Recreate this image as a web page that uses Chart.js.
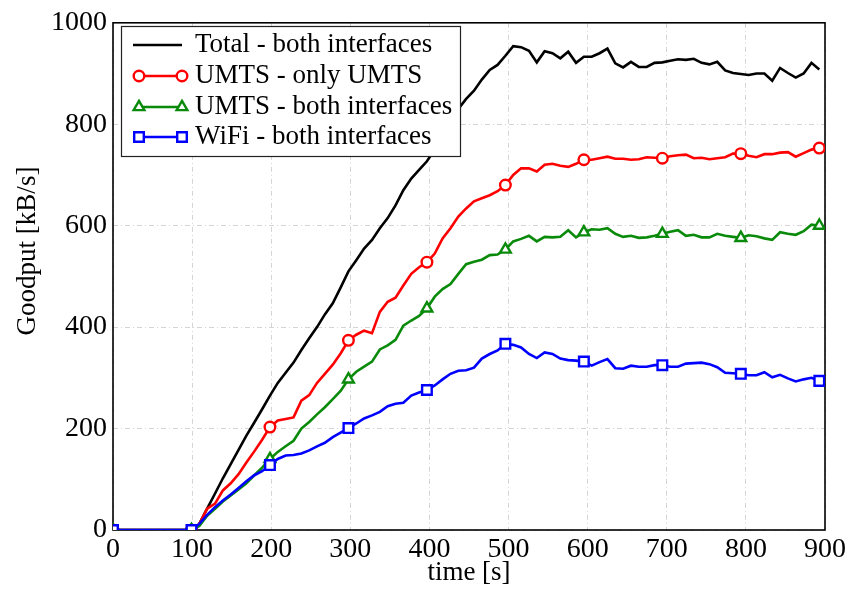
<!DOCTYPE html>
<html>
<head>
<meta charset="utf-8">
<script src="https://cdn.jsdelivr.net/npm/chart.js@4.4.0/dist/chart.umd.min.js"></script>
<style>
html, body { margin: 0; padding: 0; background: #fff; }
</style>
</head>
<body>
<canvas id="chart" width="851" height="593"></canvas>
<script>
// sample times [s]
const times = [0, 9.9, 19.8, 29.8, 39.7, 49.6, 59.5, 69.4, 79.4, 89.3,
    99.2, 109.1, 119.0, 129.0, 138.9, 148.8, 158.7, 168.6, 178.6, 188.5,
    198.4, 208.3, 218.2, 228.2, 238.1, 248.0, 257.9, 267.8, 277.8, 287.7,
    297.6, 307.5, 317.4, 327.4, 337.3, 347.2, 357.1, 367.0, 377.0, 386.9,
    396.8, 406.7, 416.6, 426.6, 436.5, 446.4, 456.3, 466.2, 476.2, 486.1,
    496.0, 505.9, 515.8, 525.8, 535.7, 545.6, 555.5, 565.4, 575.4, 585.3,
    595.2, 605.1, 615.0, 625.0, 634.9, 644.8, 654.7, 664.6, 674.6, 684.5,
    694.4, 704.3, 714.2, 724.2, 734.1, 744.0, 753.9, 763.8, 773.8, 783.7,
    793.6, 803.5, 813.4, 823.4, 833.3, 843.2, 853.1, 863.0, 873.0, 882.9,
    892.8];

// goodput [kB/s]
const totalBoth = [0, 0, 0, 0, 0, 0, 0, 0, 0, 0, 0,
    12, 42, 72, 102, 130, 158, 186, 212, 238, 265,
    290, 310, 330, 355, 378, 400, 425, 447, 478, 510,
    532, 555, 572, 595, 615, 640, 670, 693, 710, 727,
    750, 775, 800, 830, 850, 866, 888, 907, 917, 935,
    954, 952, 945, 922, 944, 940, 930, 943, 921, 933,
    933, 940, 949, 920, 912, 923, 913, 913, 921, 922,
    925, 928, 927, 929, 921, 918, 923, 906, 901, 899,
    897, 900, 900, 886, 911, 901, 892, 900, 921, 908];

const umtsOnly = [0, 0, 0, 0, 0, 0, 0, 0, 0, 0, 0,
    12, 42, 52, 78, 92, 110, 133, 155, 178, 203,
    216, 219, 222, 255, 266, 290, 308, 326, 348, 374,
    385, 393, 388, 430, 450, 458, 482, 505, 518, 528,
    545, 575, 595, 618, 634, 648, 654, 660, 668, 680,
    700, 713, 713, 707, 720, 722, 718, 716, 722, 730,
    730, 733, 736, 732, 732, 730, 731, 735, 734, 733,
    737, 739, 740, 733, 734, 731, 733, 735, 742, 742,
    738, 735, 741, 741, 744, 745, 736, 743, 750, 753];

const umtsBoth = [0, 0, 0, 0, 0, 0, 0, 0, 0, 0, 0,
    8, 28, 42, 56, 68, 80, 92, 108, 123, 140,
    154, 165, 176, 200, 213, 228, 242, 258, 274, 297,
    312, 322, 332, 356, 364, 375, 403, 413, 422, 437,
    460, 475, 485, 505, 524, 529, 533, 542, 543, 553,
    569, 574, 580, 569, 578, 577, 578, 591, 577, 587,
    593, 592, 595, 584, 578, 580, 576, 577, 580, 584,
    588, 591, 580, 582, 577, 577, 584, 580, 578, 576,
    581, 579, 575, 572, 587, 584, 582, 589, 602, 600];

const wifiBoth = [0, 0, 0, 0, 0, 0, 0, 0, 0, 0, 0,
    12, 30, 45, 58, 70, 83, 96, 108, 116, 128,
    140, 147, 148, 151, 157, 165, 172, 183, 192, 201,
    210, 220, 226, 233, 244, 249, 251, 265, 271, 276,
    285, 297, 308, 314, 315, 320, 338, 347, 354, 367,
    365, 360, 347, 339, 350, 347, 338, 335, 334, 332,
    324, 331, 337, 319, 318, 324, 322, 322, 325, 325,
    322, 322, 328, 329, 330, 327, 321, 310, 309, 308,
    305, 305, 311, 301, 306, 299, 293, 297, 300, 294];

const xTicks = [0, 100, 200, 300, 400, 500, 600, 700, 800, 900];
const yTicks = [0, 200, 400, 600, 800, 1000];

const seriesNames = ['Total - both interfaces', 'UMTS - only UMTS', 'UMTS - both interfaces', 'WiFi - both interfaces'];
const seriesColors = ['#000000', '#ff0000', '#0a8a0a', '#0000ff'];
const seriesMarkers = [false, 'circle', 'triangle', 'rect'];
const markerRadius = { circle: 5.3, triangle: 6.2, rect: 6.8 };

const FONT = "'Liberation Serif', 'Times New Roman', serif";

function toPoints(values) {
    return values.map((v, i) => ({ x: times[i], y: v }));
}

const allValues = [totalBoth, umtsOnly, umtsBoth, wifiBoth];

const datasets = allValues.map((vals, k) => ({
    label: seriesNames[k],
    data: toPoints(vals),
    borderColor: seriesColors[k],
    backgroundColor: '#ffffff',
    borderWidth: 2.6,
    pointStyle: seriesMarkers[k] || 'circle',
    pointRadius: ctx => (seriesMarkers[k] && ctx.dataIndex % 10 === 0) ? markerRadius[seriesMarkers[k]] : 0,
    pointHoverRadius: ctx => (seriesMarkers[k] && ctx.dataIndex % 10 === 0) ? markerRadius[seriesMarkers[k]] : 0,
    pointBorderWidth: 2.4,
    pointBackgroundColor: '#ffffff',
    pointBorderColor: seriesColors[k],
    tension: 0,
    order: 3 - k
}));

// frame, axis titles and legend box drawn by hand
const framePlugin = {
    id: 'frame',
    beforeDatasetsDraw(chart) {
        const { ctx, chartArea: a } = chart;
        ctx.save();
        ctx.strokeStyle = '#000';
        ctx.lineWidth = 1.6;
        ctx.strokeRect(a.left, a.top, a.right - a.left, a.bottom - a.top);
        ctx.restore();
    },
    afterDatasetsDraw(chart) {
        const { ctx } = chart;
        ctx.save();
        // legend box
        ctx.fillStyle = '#fff';
        ctx.fillRect(121, 26, 339, 130);
        ctx.strokeStyle = '#222';
        ctx.lineWidth = 1.2;
        ctx.strokeRect(121.5, 26.5, 339, 130);

        const rowY = [45, 76, 107, 137];
        seriesNames.forEach((name, k) => {
            const y = rowY[k];
            ctx.strokeStyle = seriesColors[k];
            ctx.lineWidth = 2.6;
            ctx.beginPath();
            ctx.moveTo(seriesMarkers[k] ? 139 : 133, y);
            ctx.lineTo(182, y);
            ctx.stroke();
            if (seriesMarkers[k]) {
                ctx.fillStyle = '#fff';
                ctx.lineWidth = 2.4;
                [139, 182].forEach(x => {
                    Chart.helpers.drawPoint(ctx, {
                        pointStyle: seriesMarkers[k],
                        radius: markerRadius[seriesMarkers[k]],
                        rotation: 0,
                        borderWidth: 2.4
                    }, x, y);
                });
            }
            ctx.fillStyle = '#000';
            ctx.font = '27px ' + FONT;
            ctx.textBaseline = 'middle';
            ctx.textAlign = 'left';
            ctx.fillText(name, 195, y);
        });

        // axis titles
        ctx.fillStyle = '#000';
        ctx.font = '27px ' + FONT;
        ctx.textAlign = 'center';
        ctx.textBaseline = 'middle';
        ctx.fillText('time [s]', 469, 573);
        ctx.translate(28, 251);
        ctx.rotate(-Math.PI / 2);
        ctx.fillText('Goodput [kB/s]', 0, 0);
        ctx.restore();
    }
};

const ctx = document.getElementById('chart').getContext('2d');
const chart = new Chart(ctx, {
    type: 'line',
    data: { datasets: datasets },
    options: {
        responsive: false,
        devicePixelRatio: 1,
        animation: false,
        layout: { padding: { top: 18, right: 26, left: 0, bottom: 0 } },
        plugins: {
            legend: { display: false },
            tooltip: { enabled: false }
        },
        scales: {
            x: {
                type: 'linear',
                min: 0,
                max: 900,
                afterBuildTicks: s => { s.ticks = xTicks.map(v => ({ value: v })); },
                afterFit: s => { s.height = 63; },
                ticks: {
                    color: '#000',
                    font: { family: FONT, size: 28 },
                    padding: 3,
                    maxRotation: 0,
                    autoSkip: false,
                    callback: v => String(v)
                },
                grid: { color: '#d4d4d4', lineWidth: 1, drawTicks: false },
                border: { display: false, dash: [5, 3, 1, 3] }
            },
            y: {
                min: 0,
                max: 1000,
                afterBuildTicks: s => { s.ticks = yTicks.map(v => ({ value: v })); },
                afterFit: s => { s.width = 113; },
                ticks: {
                    color: '#000',
                    font: { family: FONT, size: 28 },
                    padding: 6,
                    autoSkip: false,
                    callback: v => String(v)
                },
                grid: { color: '#d4d4d4', lineWidth: 1, drawTicks: false },
                border: { display: false, dash: [5, 3, 1, 3] }
            }
        }
    },
    plugins: [framePlugin]
});
</script>
</body>
</html>
